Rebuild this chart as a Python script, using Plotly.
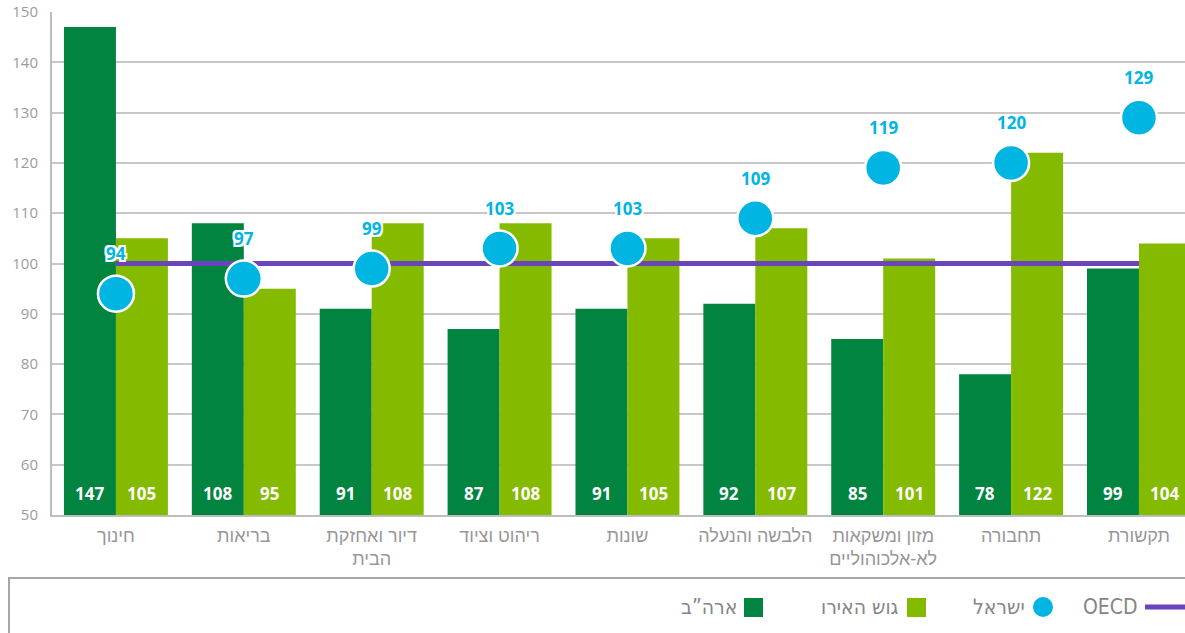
import plotly.graph_objects as go

# Data
categories = ["חינוך", "בריאות", "דיור ואחזקת<br>הבית", "ריהוט וציוד", "שונות",
              "הלבשה והנעלה", "מזון ומשקאות<br>לא-אלכוהוליים", "תחבורה", "תקשורת"]
usa = [147, 108, 91, 87, 91, 92, 85, 78, 99]
euro = [105, 95, 108, 108, 105, 107, 101, 122, 104]
israel = [94, 97, 99, 103, 103, 109, 119, 120, 129]
oecd = [100, 100, 100, 100, 100, 100, 100, 100, 100]
y_ticks = [50, 60, 70, 80, 90, 100, 110, 120, 130, 140, 150]

DARK = "#00843F"
LIGHT = "#84BB00"
CYAN = "#00B5E2"
PURPLE = "#6A45B9"
GRID = "#C8C8C8"

W, H = 1185, 633
L, T, B = 52, 12, 118
xs = list(range(len(categories)))

fig = go.Figure()
fig.add_trace(go.Bar(x=xs, y=usa, name="ארה”ב", marker_color=DARK, marker_line_width=0))
fig.add_trace(go.Bar(x=xs, y=euro, name="גוש האירו", marker_color=LIGHT, marker_line_width=0))
fig.add_trace(go.Scatter(x=xs, y=oecd, mode="lines", name="OECD",
                         line=dict(color=PURPLE, width=5)))
fig.add_trace(go.Scatter(x=xs, y=israel, mode="markers", name="ישראל",
                         marker=dict(color=CYAN, size=36, line=dict(color="white", width=2.5)),
                         cliponaxis=False))

annotations = []
num_font = "Open Sans, Lato, sans-serif"
# value labels at the bottom of the bars
for i in xs:
    for vals, dx in ((usa, -26), (euro, 26)):
        annotations.append(dict(x=i, y=50, xref="x", yref="y", text=f"<b>{vals[i]}</b>",
                                showarrow=False, xshift=dx, yshift=8, yanchor="bottom",
                                font=dict(family=num_font, size=17, color="white")))
# Israel labels above dots
outline = "-2px -2px 0 white, 2px -2px 0 white, -2px 2px 0 white, 2px 2px 0 white, 0 2px 0 white, 0 -2px 0 white, 2px 0 0 white, -2px 0 0 white"
for i, v in enumerate(israel):
    annotations.append(dict(x=i, y=v, xref="x", yref="y", text=f"<b>{v}</b>",
                            showarrow=False, yshift=40,
                            font=dict(family=num_font, size=17, color=CYAN, shadow=outline)))

# custom legend (text to the left of the symbol, right-to-left)
pw, ph = W - L, H - T - B


def px(xp):
    return (xp - L) / pw


def py(yp):
    return (H - B - yp) / ph


leg_y = 607
leg_font = dict(family="Liberation Sans Narrow, DejaVu Sans Condensed, Liberation Sans, sans-serif",
                size=21, color="#858585")
shapes = [
    dict(type="rect", xref="paper", yref="paper", x0=px(9), x1=px(1200), y0=py(578), y1=py(660),
         line=dict(color="#A6A6A6", width=2), fillcolor="rgba(0,0,0,0)", layer="below"),
    dict(type="line", xref="paper", yref="paper", x0=px(1145), x1=px(1186), y0=py(leg_y), y1=py(leg_y),
         line=dict(color=PURPLE, width=5)),
    dict(type="circle", xref="paper", yref="paper", x0=px(1033), x1=px(1053), y0=py(leg_y - 10), y1=py(leg_y + 10),
         fillcolor=CYAN, line=dict(width=0)),
    dict(type="rect", xref="paper", yref="paper", x0=px(907), x1=px(926), y0=py(leg_y - 9), y1=py(leg_y + 10),
         fillcolor=LIGHT, line=dict(width=0)),
    dict(type="rect", xref="paper", yref="paper", x0=px(744), x1=px(763), y0=py(leg_y - 9), y1=py(leg_y + 10),
         fillcolor=DARK, line=dict(width=0)),
]
for label, right in (("OECD", 1140), ("ישראל", 1027), ("גוש האירו", 901), ("ארה”ב", 739)):
    annotations.append(dict(x=px(right), y=py(leg_y), xref="paper", yref="paper", text=label,
                            showarrow=False, xanchor="right", yanchor="middle", font=leg_font))

fig.update_layout(
    width=W, height=H,
    margin=dict(l=L, r=0, t=T, b=B),
    plot_bgcolor="white", paper_bgcolor="white",
    barmode="group", bargap=0.187, bargroupgap=0,
    showlegend=False,
    annotations=annotations,
    shapes=shapes,
    font=dict(family=num_font, color="#8C8C8C"),
)
fig.update_xaxes(
    tickvals=xs, ticktext=categories, range=[-0.5, 8.36],
    showline=True, linecolor="#BDBDBD", linewidth=2, showgrid=False,
    ticks="", ticklabelstandoff=3,
    tickfont=dict(family="Liberation Sans, DejaVu Sans, sans-serif", size=18, color="#979797"),
)
fig.update_yaxes(
    range=[50, 150], tickvals=y_ticks,
    showline=True, linecolor="#BDBDBD", linewidth=2,
    showgrid=True, gridcolor=GRID, gridwidth=1.5,
    zeroline=False, ticks="", ticklabelstandoff=9,
    tickfont=dict(family=num_font, size=15, color="#9B9B9B"),
)

fig.write_html("out.html", config={"displayModeBar": False},
               post_script="document.body.style.margin='0';")
